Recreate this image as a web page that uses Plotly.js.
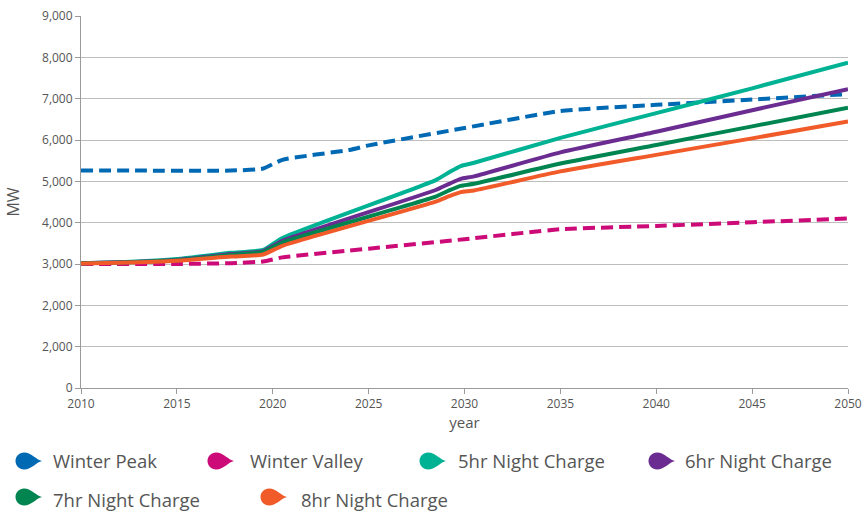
<!DOCTYPE html>
<html>
<head>
<meta charset="utf-8">
<script src="https://cdn.plot.ly/plotly-3.0.1.min.js"></script>
<style>html,body{margin:0;padding:0;background:#fff;}#chart{width:864px;height:514px;}</style>
</head>
<body>
<div id="chart"></div>
<script>
// ---- data ----
const peakYears   = [2010, 2013, 2017.8, 2019.5, 2020.5, 2024, 2025, 2030, 2035, 2040, 2045, 2050];
const winterPeak  = [5260, 5260, 5260, 5310, 5520, 5760, 5870, 6290, 6700, 6850, 6980, 7110];
const valleyYears = [2010, 2015, 2017.8, 2019.5, 2020.5, 2025, 2030, 2035, 2040, 2045, 2050];
const winterValley= [3000, 3000, 3020, 3060, 3160, 3370, 3600, 3840, 3920, 4010, 4100];
const chargeYears = [2010, 2012, 2015, 2017.8, 2019.5, 2020.5, 2028.5, 2029.2, 2029.8, 2030.5, 2035, 2040, 2045, 2050];
const night5 = [3020, 3040, 3120, 3270, 3340, 3630, 5030, 5220, 5370, 5450, 6050, 6650, 7250, 7870];
const night6 = [3020, 3040, 3100, 3240, 3310, 3560, 4790, 4940, 5060, 5120, 5700, 6200, 6720, 7230];
const night7 = [3020, 3035, 3090, 3220, 3290, 3520, 4630, 4780, 4890, 4940, 5430, 5880, 6330, 6780];
const night8 = [3010, 3030, 3080, 3180, 3230, 3440, 4510, 4640, 4740, 4780, 5240, 5640, 6040, 6450];
const yTickVals = [0, 1000, 2000, 3000, 4000, 5000, 6000, 7000, 8000, 9000];
const yTickText = ["0", "2,000", "2,000", "3,000", "4,000", "5,000", "6,000", "7,000", "8,000", "9,000"];
const xTickVals = [2010, 2015, 2020, 2025, 2030, 2035, 2040, 2045, 2050];
const seriesNames = ["Winter Peak", "Winter Valley", "5hr Night Charge", "6hr Night Charge", "7hr Night Charge", "8hr Night Charge"];
const colors = ["#0069b4", "#cc0a78", "#00b294", "#6b2c91", "#008550", "#f15a29"];

// ---- layout helpers ----
const W = 864, H = 514, L = 81, R = 16, T = 16, B = 126;
const pw = W - L - R, ph = H - T - B;
const px2x = p => (p - L) / pw;
const py2y = p => (H - B - p) / ph;

const sm = 0.5;
const traces = [
  {x: peakYears, y: winterPeak, name: seriesNames[0], mode: 'lines', line: {color: colors[0], width: 4, dash: '12px,6px', shape: 'spline', smoothing: sm}},
  {x: valleyYears, y: winterValley, name: seriesNames[1], mode: 'lines', line: {color: colors[1], width: 4, dash: '12px,6px', shape: 'spline', smoothing: sm}},
  {x: chargeYears, y: night5, name: seriesNames[2], mode: 'lines', line: {color: colors[2], width: 4, shape: 'spline', smoothing: sm}},
  {x: chargeYears, y: night6, name: seriesNames[3], mode: 'lines', line: {color: colors[3], width: 4, shape: 'spline', smoothing: sm}},
  {x: chargeYears, y: night7, name: seriesNames[4], mode: 'lines', line: {color: colors[4], width: 4, shape: 'spline', smoothing: sm}},
  {x: chargeYears, y: night8, name: seriesNames[5], mode: 'lines', line: {color: colors[5], width: 4, shape: 'spline', smoothing: sm}}
];

// legend built as droplet shapes + text annotations
const legendPos = [[24, 51, 461, 460], [216, 248, 461, 460], [428, 456, 461, 460], [657, 683, 461, 460], [24, 51, 497, 499], [269, 299, 497, 499]];
const drop = "M 18 0 C 12 1, 8 8.5, 0 8.5 C -4.7 8.5, -8.5 4.7, -8.5 0 C -8.5 -4.7, -4.7 -8.5, 0 -8.5 C 8 -8.5, 12 -1, 18 0 Z";
const shapes = [], annotations = [];
legendPos.forEach((p, i) => {
  shapes.push({type: 'path', xref: 'paper', yref: 'paper', xsizemode: 'pixel', ysizemode: 'pixel',
    xanchor: px2x(p[0]), yanchor: py2y(p[2]), path: drop, fillcolor: colors[i], line: {width: 0}});
  annotations.push({xref: 'paper', yref: 'paper', x: px2x(p[1]), y: py2y(p[3]), xanchor: 'left', yanchor: 'middle',
    text: seriesNames[i], showarrow: false, font: {family: 'Open Sans, sans-serif', size: 18.5, color: '#555'}});
});

const layout = {
  width: W, height: H,
  margin: {l: L, r: R, t: T, b: B, pad: 0},
  paper_bgcolor: '#fff', plot_bgcolor: '#fff',
  showlegend: false,
  font: {family: 'Open Sans, sans-serif', color: '#555'},
  xaxis: {
    range: [2010, 2050], tickvals: xTickVals, showgrid: false, zeroline: false,
    showline: true, linecolor: '#9a9a9a', linewidth: 1,
    ticks: 'outside', ticklen: 5, tickcolor: '#9a9a9a',
    tickfont: {size: 12, color: '#555'},
    title: {text: 'year', font: {size: 15, color: '#555'}, standoff: 6}
  },
  yaxis: {
    range: [0, 9000], tickvals: yTickVals, ticktext: yTickText,
    showgrid: true, gridcolor: '#bdbdbd', gridwidth: 1, zeroline: false,
    showline: true, linecolor: '#9a9a9a', linewidth: 1,
    ticks: 'outside', ticklen: 5, tickcolor: '#9a9a9a',
    tickfont: {size: 12, color: '#555'},
    title: {text: 'MW', font: {size: 16, color: '#555'}, standoff: 18}
  },
  shapes: shapes,
  annotations: annotations
};

Plotly.newPlot('chart', traces, layout, {displayModeBar: false, staticPlot: true});
</script>
</body>
</html>
